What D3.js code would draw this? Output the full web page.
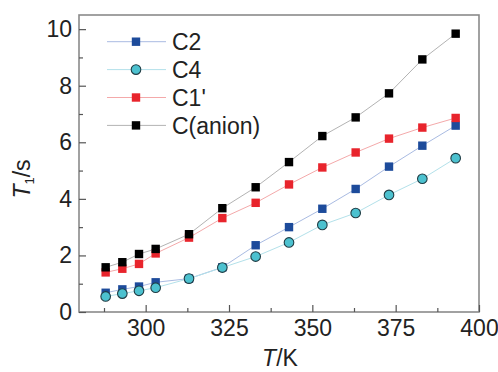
<!DOCTYPE html>
<html>
<head>
<meta charset="utf-8">
<script src="https://cdn.jsdelivr.net/npm/d3@7"></script>
<style>
  body { margin: 0; background: #fff; }
  svg text { font-family: "Liberation Sans", Arial, sans-serif; }
</style>
</head>
<body>
<div id="chart"></div>
<script>
// temperatures (K)
var temps = [288, 293, 298, 303, 313, 323, 333, 343, 353, 363, 373, 383, 393];
// T1 (s) for each carbon
var c2 = [0.68, 0.80, 0.90, 1.05, 1.18, 1.58, 2.36, 3.00, 3.65, 4.35, 5.14, 5.88, 6.59];
var c4 = [0.55, 0.65, 0.75, 0.86, 1.18, 1.57, 1.96, 2.46, 3.08, 3.50, 4.14, 4.71, 5.44];
var c1p = [1.40, 1.53, 1.70, 2.07, 2.63, 3.32, 3.86, 4.51, 5.11, 5.64, 6.13, 6.52, 6.86];
var canion = [1.58, 1.76, 2.05, 2.23, 2.75, 3.67, 4.41, 5.30, 6.22, 6.88, 7.73, 8.93, 9.84];

var xTicks = [300, 325, 350, 375, 400];
var yTicks = [0, 2, 4, 6, 8, 10];

var series = [
  { name: "C2", values: c2, shape: "square", fill: "#1d4b9b", line: "#a9bbe2" },
  { name: "C4", values: c4, shape: "circle", fill: "#4cc1cf", line: "#b3e1ea" },
  { name: "C1'", values: c1p, shape: "square", fill: "#e8242c", line: "#f4a9aa" },
  { name: "C(anion)", values: canion, shape: "square", fill: "#000000", line: "#b3b3b3" }
];

var width = 498, height = 372;
var margin = { left: 79, top: 15, right: 19, bottom: 60 };
var fontSize = 23;

var svg = d3.select("#chart").append("svg")
  .attr("width", width)
  .attr("height", height);

var x = d3.scaleLinear().domain([280, 400]).range([margin.left, width - margin.right]);
var y = d3.scaleLinear().domain([0, 10.5]).range([height - margin.bottom, margin.top]);

var frameColor = "#8a8a8a";

// frame
svg.append("rect")
  .attr("x", x(280))
  .attr("y", y(10.5))
  .attr("width", x(400) - x(280))
  .attr("height", y(0) - y(10.5))
  .attr("fill", "none")
  .attr("stroke", frameColor)
  .attr("stroke-width", 1.6);

// x axis
var xAxis = svg.append("g")
  .attr("transform", "translate(0," + y(0) + ")")
  .call(d3.axisBottom(x).tickValues(xTicks).tickSize(-7).tickPadding(8).tickFormat(d3.format("d")));
xAxis.select(".domain").remove();
xAxis.selectAll(".tick line").attr("stroke", "#555").attr("stroke-width", 1.2);
xAxis.selectAll("text").attr("font-size", fontSize).attr("fill", "#222");

svg.append("g")
  .attr("transform", "translate(0," + y(0) + ")")
  .call(d3.axisBottom(x).tickValues(d3.range(287.5, 400, 25)).tickSize(-4).tickFormat(""))
  .call(function(g) {
    g.select(".domain").remove();
    g.selectAll(".tick line").attr("stroke", "#555").attr("stroke-width", 1.2);
  });

// y axis
var yAxis = svg.append("g")
  .attr("transform", "translate(" + x(280) + ",0)")
  .call(d3.axisLeft(y).tickValues(yTicks).tickSize(-7).tickPadding(7));
yAxis.select(".domain").remove();
yAxis.selectAll(".tick line").attr("stroke", "#555").attr("stroke-width", 1.2);
yAxis.selectAll("text").attr("font-size", fontSize).attr("fill", "#222");

svg.append("g")
  .attr("transform", "translate(" + x(280) + ",0)")
  .call(d3.axisLeft(y).tickValues([1, 3, 5, 7, 9]).tickSize(-4).tickFormat(""))
  .call(function(g) {
    g.select(".domain").remove();
    g.selectAll(".tick line").attr("stroke", "#555").attr("stroke-width", 1.2);
  });

// axis titles
var xTitle = svg.append("text")
  .attr("x", 280)
  .attr("y", 366)
  .attr("text-anchor", "middle")
  .attr("font-size", fontSize)
  .attr("fill", "#222");
xTitle.append("tspan").attr("font-style", "italic").text("T");
xTitle.append("tspan").text("/K");

var yTitle = svg.append("text")
  .attr("transform", "translate(30,179) rotate(-90)")
  .attr("text-anchor", "middle")
  .attr("font-size", fontSize)
  .attr("fill", "#222");
yTitle.append("tspan").attr("font-style", "italic").text("T");
yTitle.append("tspan").attr("font-size", 13).attr("dy", 4).text("1");
yTitle.append("tspan").attr("dy", -4).text("/s");

function drawMarker(g, shape, cx, cy, fill) {
  if (shape === "circle") {
    g.append("circle")
      .attr("cx", cx).attr("cy", cy).attr("r", 4.8)
      .attr("fill", fill)
      .attr("stroke", "#1f3c44")
      .attr("stroke-width", 1.1);
  } else {
    g.append("rect")
      .attr("x", cx - 4.2).attr("y", cy - 4.2)
      .attr("width", 8.4).attr("height", 8.4)
      .attr("fill", fill);
  }
}

var line = d3.line()
  .x(function(d) { return x(d[0]); })
  .y(function(d) { return y(d[1]); });

series.forEach(function(s) {
  var pts = temps.map(function(t, i) { return [t, s.values[i]]; });
  var g = svg.append("g");
  g.append("path")
    .attr("d", line(pts))
    .attr("fill", "none")
    .attr("stroke", s.line)
    .attr("stroke-width", 1);
  pts.forEach(function(p) {
    drawMarker(g, s.shape, x(p[0]), y(p[1]), s.fill);
  });
});

// legend
var legend = svg.append("g");
series.forEach(function(s, i) {
  var ly = 41.7 + i * 27.9;
  legend.append("line")
    .attr("x1", 107).attr("x2", 166)
    .attr("y1", ly).attr("y2", ly)
    .attr("stroke", s.line)
    .attr("stroke-width", 1);
  drawMarker(legend, s.shape, 136, ly, s.fill);
  legend.append("text")
    .attr("x", 172)
    .attr("y", ly + 8.3)
    .attr("font-size", fontSize)
    .attr("fill", "#222")
    .text(s.name);
});
</script>
</body>
</html>
